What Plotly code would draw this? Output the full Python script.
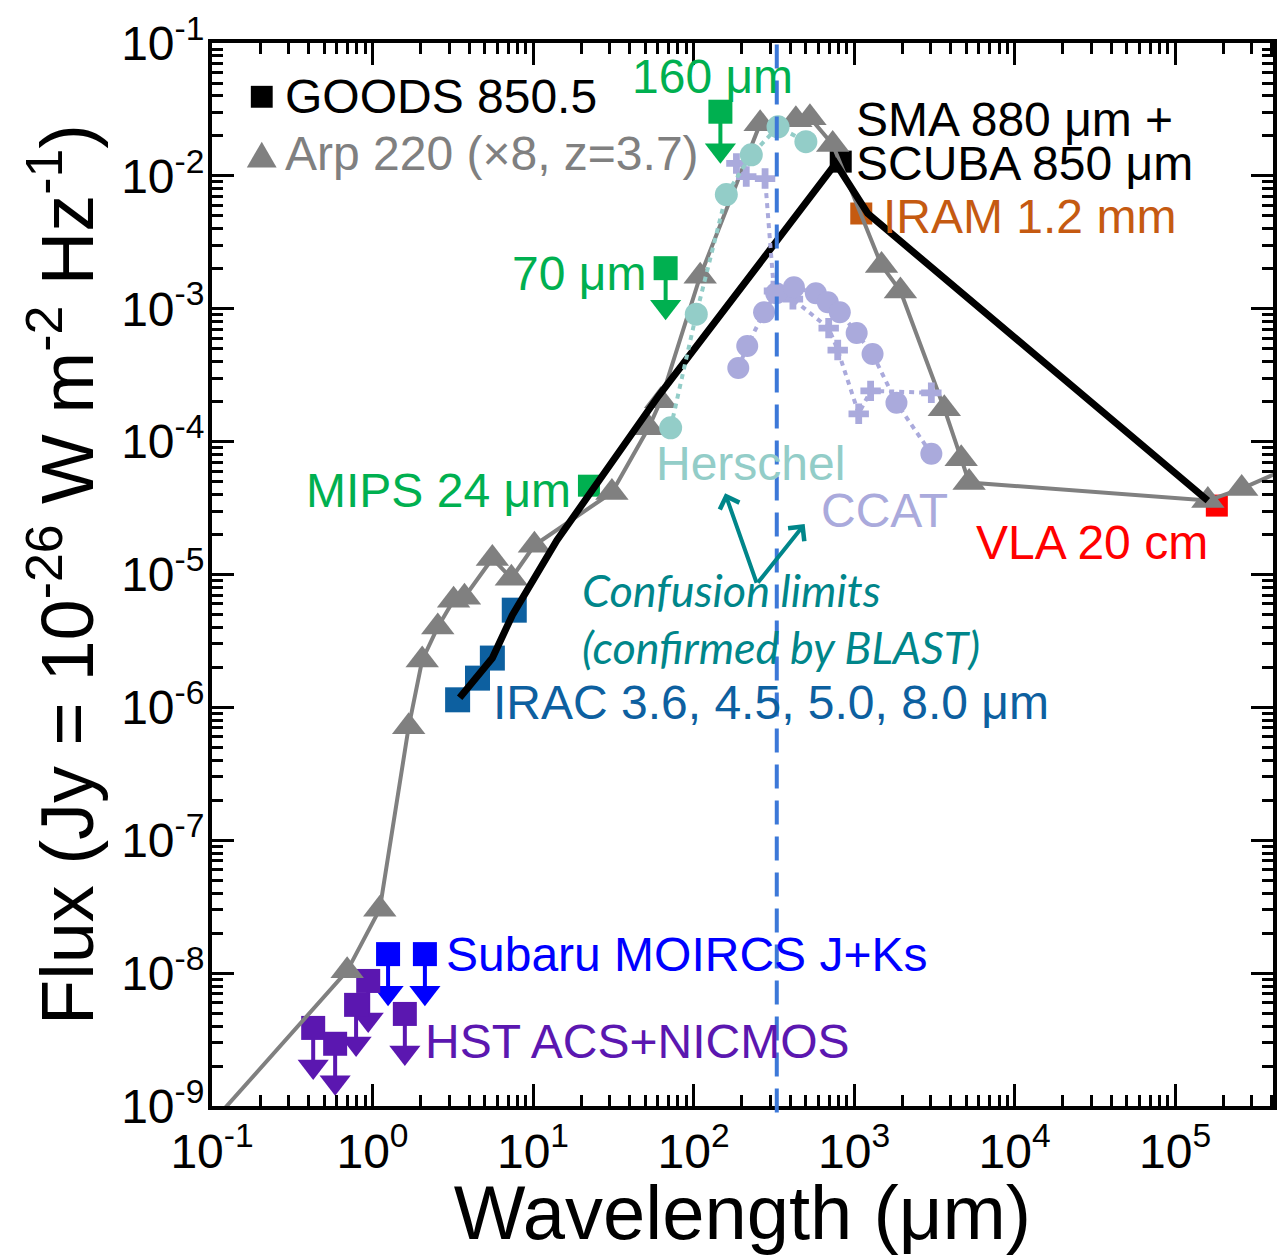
import plotly.graph_objects as go

# ---------------- data ----------------
# Arp 220 template SED (scaled x8, redshifted to z = 3.7)
arp_wave = [0.1, 0.695, 1.11, 1.68, 2.04, 2.55, 3.2, 3.74, 5.58, 7.33, 10.2, 31, 52.5, 62.4, 110,
            260, 434, 531, 736, 1483, 1945, 3650, 4650, 5210, 1.6e5, 2.6e5, 1.0e6]
arp_flux = [7.5e-10, 1.04e-8, 3.03e-8, 7.14e-7, 2.27e-6, 4.02e-6, 6.41e-6, 6.74e-6, 1.32e-5, 9.37e-6,
            1.66e-5, 4.14e-5, 1.27e-4, 2.03e-4, 1.76e-3, 2.47e-2, 2.64e-2, 2.74e-2, 1.72e-2, 2.12e-3,
            1.36e-3, 1.77e-4, 7.44e-5, 4.92e-5, 3.6e-5, 4.43e-5, 9.06e-5]

# GOODS 850.5 best-fitting SED
sed_wave = [3.49, 5.58, 7.43, 14.1, 60.6, 304, 769, 1216, 1.6e5]
sed_flux = [1.18e-6, 2.35e-6, 4.94e-6, 1.81e-5, 2.21e-4, 2.80e-3, 1.24e-2, 5.21e-3, 3.6e-5]

# Confusion limits
herschel_wave = [72, 104, 160, 229, 336, 501]
herschel_flux = [1.27e-4, 9.1e-4, 7.24e-3, 1.44e-2, 2.34e-2, 1.81e-2]
ccat_wave = [190, 216, 275, 327, 422, 578, 686, 815, 1038, 1304, 1837, 3030]
ccat_flux = [3.58e-4, 5.24e-4, 9.42e-4, 1.31e-3, 1.45e-3, 1.31e-3, 1.12e-3, 9.42e-4,
             6.56e-4, 4.56e-4, 1.96e-4, 8.11e-5]
ccat_alt_wave = [185, 213, 279, 317, 416, 695, 791, 1069, 1268, 3030]
ccat_alt_flux = [1.24e-2, 9.88e-3, 9.55e-3, 1.36e-3, 1.18e-3, 7.15e-4, 4.89e-4, 1.62e-4,
                 2.41e-4, 2.33e-4]

# Photometry
hst_wave = [0.427, 0.585, 0.79, 0.94, 1.59]
hst_flux = [3.87e-9, 2.94e-9, 5.77e-9, 8.73e-9, 4.93e-9]
subaru_wave = [1.25, 2.12]
subaru_flux = [1.39e-8, 1.39e-8]
irac_wave = [3.39, 4.51, 5.58, 7.64]
irac_flux = [1.14e-6, 1.66e-6, 2.35e-6, 5.39e-6]
mips_wave = [22.3]
mips_flux = [4.66e-5]
pacs_wave = [67, 147]
pacs_flux = [2.02e-3, 3.04e-2]
scuba_wave = [826]
scuba_flux = [1.28e-2]
iram_wave = [1109]
iram_flux = [5.21e-3]
vla_wave = [1.82e5]
vla_flux = [3.3e-5]

confusion_wave = 330  # vertical dashed marker

x_tick_exp = [-1, 0, 1, 2, 3, 4, 5]
y_tick_exp = [-9, -8, -7, -6, -5, -4, -3, -2, -1]

# ---------------- styling ----------------
GREEN = "#00b050"
IRAC_BLUE = "#0d60a0"
SUBARU_BLUE = "#0000ff"
HST_PURPLE = "#5b17b0"
IRAM_ORANGE = "#c55a11"
VLA_RED = "#ff0000"
HERSCHEL_C = "#93cdc8"
CCAT_C = "#aaaadc"
ARP_GRAY = "#808080"
TEAL = "#00868a"
DASH_BLUE = "#3c78d8"
FONT = "Liberation Sans, Arial, sans-serif"
ITALIC_FONT = "Lato, Open Sans, sans-serif"
ARROW_DEX = 0.29

fig = go.Figure()


def add_squares(wave, flux, color, size=24):
    fig.add_trace(go.Scatter(x=wave, y=flux, mode="markers",
                             marker=dict(symbol="square", size=size, color=color)))


def add_limits(wave, flux, color):
    tips = [f * 10 ** (-ARROW_DEX) for f in flux]
    xs, ys = [], []
    for w, f, t in zip(wave, flux, tips):
        xs += [w, w, None]
        ys += [f, t, None]
    fig.add_trace(go.Scatter(x=xs, y=ys, mode="lines", line=dict(color=color, width=4)))
    fig.add_trace(go.Scatter(x=wave, y=tips, mode="markers",
                             marker=dict(symbol="triangle-down", size=27, color=color)))
    add_squares(wave, flux, color)


# photometric points (under the model curves)
add_squares(vla_wave, vla_flux, VLA_RED, 22)
add_squares(iram_wave, iram_flux, IRAM_ORANGE, 22)
add_squares(scuba_wave, scuba_flux, "black", 22)
add_squares(irac_wave, irac_flux, IRAC_BLUE, 25)
add_squares(mips_wave, mips_flux, GREEN, 22)
add_limits(pacs_wave, pacs_flux, GREEN)
add_limits(subaru_wave, subaru_flux, SUBARU_BLUE)
add_limits(hst_wave, hst_flux, HST_PURPLE)

# Arp 220 template
fig.add_trace(go.Scatter(x=arp_wave, y=arp_flux, mode="lines+markers",
                         line=dict(color=ARP_GRAY, width=4),
                         marker=dict(symbol="triangle-up", size=29, color=ARP_GRAY)))

# GOODS 850.5 model
fig.add_trace(go.Scatter(x=sed_wave, y=sed_flux, mode="lines",
                         line=dict(color="black", width=7)))

# confusion limits
fig.add_trace(go.Scatter(x=ccat_alt_wave, y=ccat_alt_flux, mode="lines+markers",
                         line=dict(color=CCAT_C, width=4, dash="5px,5px"),
                         marker=dict(symbol="cross", size=17, color=CCAT_C)))
fig.add_trace(go.Scatter(x=ccat_wave, y=ccat_flux, mode="lines+markers",
                         line=dict(color=CCAT_C, width=4, dash="5px,5px"),
                         marker=dict(symbol="circle", size=22, color=CCAT_C)))
fig.add_trace(go.Scatter(x=herschel_wave, y=herschel_flux, mode="lines+markers",
                         line=dict(color=HERSCHEL_C, width=4, dash="5px,5px"),
                         marker=dict(symbol="circle", size=23, color=HERSCHEL_C)))

# vertical dashed line at the confusion wavelength
fig.add_shape(type="line", xref="x", yref="paper", x0=confusion_wave, x1=confusion_wave,
              y0=-0.006, y1=1, layer="above",
              line=dict(color=DASH_BLUE, width=4, dash="24px,12px"))

# legend keys
fig.add_shape(type="rect", xref="paper", yref="paper",
              x0=0.0366, x1=0.0572, y0=0.9391, y1=0.9597,
              fillcolor="black", line=dict(width=0))
fig.add_shape(type="path", xref="paper", yref="paper",
              path="M 0.0328 0.8829 L 0.0609 0.8829 L 0.0469 0.9072 Z",
              fillcolor=ARP_GRAY, line=dict(width=0))


def label(text, xp, yp, color, anchor="left", size=48, italic=False, family=FONT):
    fig.add_annotation(text=text, xref="paper", yref="paper", x=xp, y=yp,
                       xanchor=anchor, yanchor="middle", showarrow=False,
                       font=dict(size=size, color=color, family=family,
                                 style="italic" if italic else "normal"))


label("GOODS 850.5", 0.0666, 0.9494, "black")
label("Arp 220 (×8, z=3.7)", 0.0666, 0.8960, ARP_GRAY)
label("160 μm", 0.4714, 0.9681, GREEN, "center")
label("70 μm", 0.4105, 0.7835, GREEN, "right")
label("MIPS 24 μm", 0.3402, 0.5792, GREEN, "right")
label("SMA 880 μm +", 0.6054, 0.9278, "black")
label("SCUBA 850 μm", 0.6054, 0.8866, "black")
label("IRAM 1.2 mm", 0.6307, 0.8369, IRAM_ORANGE)
label("VLA 20 cm", 0.7179, 0.5304, VLA_RED)
label("Herschel", 0.4170, 0.6045, HERSCHEL_C)
label("CCAT", 0.5717, 0.5604, CCAT_C)
label("Confusion limits", 0.3468, 0.4855, TEAL, size=45, italic=True, family=ITALIC_FONT)
label("(confirmed by BLAST)", 0.3468, 0.4321, TEAL, size=45, italic=True, family=ITALIC_FONT)
label("IRAC 3.6, 4.5, 5.0, 8.0 μm", 0.2634, 0.3796, IRAC_BLUE)
label("Subaru MOIRCS J+Ks", 0.2184, 0.1425, SUBARU_BLUE)
label("HST ACS+NICMOS", 0.1987, 0.0609, HST_PURPLE)

# arrows pointing from the confusion-limit note to the two curves
for hx, hy, ax, ay in [(0.4836, 0.5764, 32, 91), (0.5586, 0.5474, -48, 60)]:
    fig.add_annotation(text="", xref="paper", yref="paper", x=hx, y=hy, ax=ax, ay=ay,
                       showarrow=True, arrowhead=4, arrowsize=1, arrowwidth=4, arrowcolor=TEAL)

x_minor = [m * 10.0 ** k for k in range(-1, 6) for m in range(2, 10)]
y_minor = [m * 10.0 ** k for k in range(-9, -1) for m in range(2, 10)]

axis_common = dict(type="log", showgrid=False, zeroline=False, ticks="inside", ticklen=22,
                   tickwidth=3, tickcolor="black", linewidth=4, linecolor="black",
                   mirror="ticks", tickfont=dict(size=48, family=FONT, color="black"))

fig.update_xaxes(**axis_common, range=[-1, 5.61],
                 tickvals=[10.0 ** e for e in x_tick_exp],
                 ticktext=[f"10<sup>{e}</sup>" for e in x_tick_exp],
                 minor=dict(ticks="inside", ticklen=11, tickwidth=3, tickcolor="black",
                            tickvals=x_minor, showgrid=False),
                 title=dict(text="Wavelength (μm)", font=dict(size=76, family=FONT), standoff=14))
fig.update_yaxes(**axis_common, range=[-9, -1], ticklabelstandoff=-6,
                 tickvals=[10.0 ** e for e in y_tick_exp],
                 ticktext=[f"10<sup>{e}</sup>" for e in y_tick_exp],
                 minor=dict(ticks="inside", ticklen=11, tickwidth=3, tickcolor="black",
                            tickvals=y_minor, showgrid=False),
                 title=dict(text="Flux (Jy = 10<sup>-26</sup> W m<sup>-2</sup> Hz<sup>-1</sup>)",
                            font=dict(size=74, family=FONT), standoff=4))

fig.update_layout(width=1287, height=1255, margin=dict(l=212, r=10, t=41, b=147),
                  plot_bgcolor="white", paper_bgcolor="white", showlegend=False,
                  font=dict(family=FONT, color="black"))

fig.write_html("out.html")
